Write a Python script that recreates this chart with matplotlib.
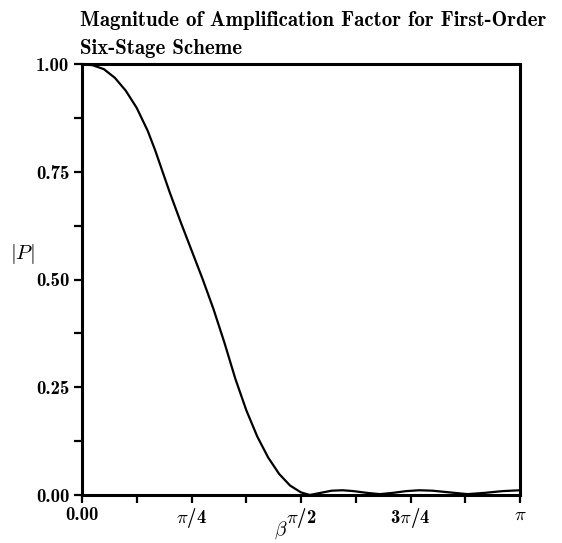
import numpy as np
import matplotlib.pyplot as plt
from matplotlib.ticker import MultipleLocator

plt.rcParams['font.family'] = ['cmb10', 'DejaVu Serif']
plt.rcParams['mathtext.fontset'] = 'cm'
plt.rcParams['axes.unicode_minus'] = False

# beta en fracciones de pi, y magnitud |P|
beta_pi = [0.00, 0.025, 0.05, 0.075, 0.10, 0.125, 0.15, 0.167, 0.184, 0.20,
           0.225, 0.25, 0.275, 0.30, 0.325, 0.35, 0.375, 0.40, 0.425, 0.45,
           0.475, 0.50, 0.52, 0.545, 0.57, 0.595, 0.62, 0.65, 0.68, 0.71,
           0.74, 0.77, 0.80, 0.84, 0.88, 0.92, 0.96, 1.00]
mag_p = [1.000, 0.997, 0.988, 0.968, 0.938, 0.898, 0.845, 0.800, 0.750, 0.703,
         0.634, 0.568, 0.502, 0.432, 0.354, 0.270, 0.197, 0.136, 0.087, 0.049,
         0.022, 0.006, 0.000, 0.005, 0.010, 0.011, 0.009, 0.005, 0.002, 0.005,
         0.009, 0.011, 0.010, 0.006, 0.002, 0.005, 0.009, 0.011]

xtick_pos = [0, np.pi/4, np.pi/2, 3*np.pi/4, np.pi]
xtick_lbl = ['0.00', r'$\pi$/4', r'$\pi$/2', r'3$\pi$/4', r'$\pi$']
ytick_pos = [0.0, 0.25, 0.5, 0.75, 1.0]
ytick_lbl = ['0.00', '0.25', '0.50', '0.75', '1.00']

beta = np.array(beta_pi) * np.pi

fig = plt.figure(figsize=(5.62, 5.43), dpi=100)
ax = fig.add_axes([82/562, 1-495/543, 438/562, 431/543])

ax.plot(beta, mag_p, color='black', linewidth=1.6)

ax.set_xlim(0, np.pi)
ax.set_ylim(0, 1)
ax.set_xticks(xtick_pos)
ax.set_xticklabels(xtick_lbl)
ax.set_yticks(ytick_pos)
ax.set_yticklabels(ytick_lbl)
ax.xaxis.set_minor_locator(MultipleLocator(np.pi/8))
ax.yaxis.set_minor_locator(MultipleLocator(0.125))
ax.tick_params(which='both', direction='out', length=6, width=1.6,
               top=False, right=False, labelsize=13.5)
ax.tick_params(axis='x', pad=2)
ax.tick_params(axis='y', pad=3)
for s in ax.spines.values():
    s.set_linewidth(2.2)

fig.text(80/562, 1-26/543, 'Magnitude of Amplification Factor for First-Order',
         fontsize=15, va='baseline', ha='left')
fig.text(80/562, 1-54/543, 'Six-Stage Scheme',
         fontsize=15, va='baseline', ha='left')
fig.text(22/562, 1-254/543, r'$|P|$', fontsize=15, ha='center', va='center')
fig.text(281/562, 2/543, r'$\beta$', fontsize=14, ha='center', va='bottom')

plt.savefig('out.png', dpi=100)
